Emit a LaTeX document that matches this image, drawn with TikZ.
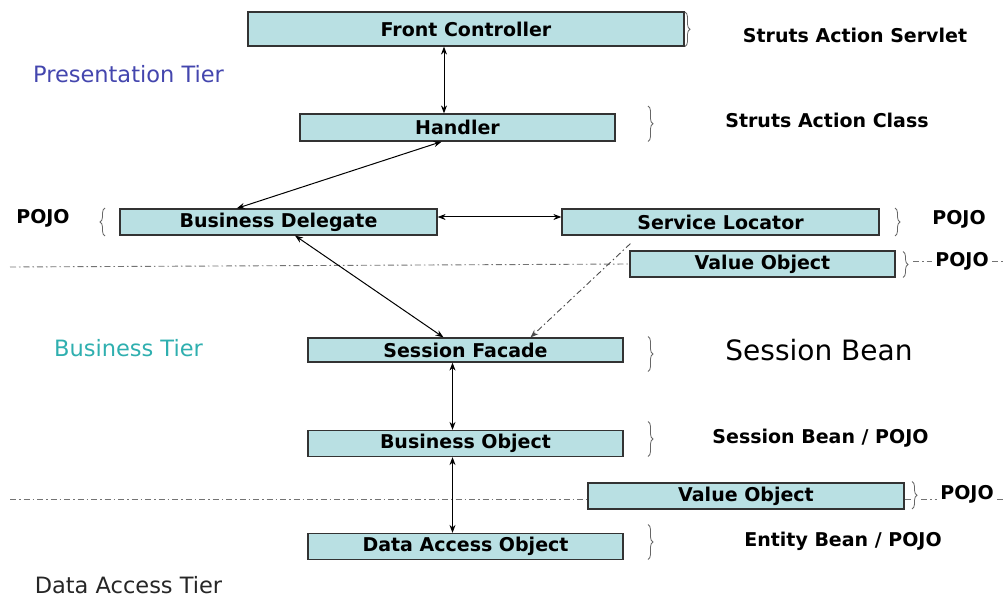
\documentclass[tikz,border=0pt]{standalone}
\usepackage{fontspec}
\setmainfont{DejaVu Sans}
\usetikzlibrary{arrows.meta,decorations.pathreplacing}

\definecolor{boxfill}{HTML}{B9E0E3}
\definecolor{presblue}{HTML}{4446AE}
\definecolor{busteal}{HTML}{2FAFAF}

\tikzset{
  tierbox/.style={draw=black!80, line width=1.2pt, fill=boxfill, inner sep=0pt,
    font=\bfseries\fontsize{19}{22}\selectfont},
  link/.style={{Stealth[length=8pt,width=6pt]}-{Stealth[length=8pt,width=6pt]}, line width=1pt},
  tierline/.style={black!55, line width=0.9pt, dash pattern=on 6pt off 3pt on 1.5pt off 3pt},
  curly/.style={decorate, decoration={brace, amplitude=5pt}, black!60, line width=0.8pt},
  role/.style={font=\bfseries\fontsize{19}{22}\selectfont, anchor=base},
  tier/.style={font=\fontsize{22.5}{26}\selectfont, anchor=base, inner sep=1pt},
}

\begin{document}
\begin{tikzpicture}[x=1pt,y=-1pt]
  \useasboundingbox (0,0) rectangle (1005,599);

  % boxes
  \node[tierbox, minimum width=436pt, minimum height=34pt] (fc) at (466,29) {Front Controller};
  \node[tierbox, minimum width=315pt, minimum height=27pt] (h) at (457.5,127.5) {Handler};
  \node[tierbox, minimum width=317pt, minimum height=26pt] (bd) at (278.5,222) {Business Delegate};
  \node[tierbox, minimum width=317pt, minimum height=26pt] (sl) at (720.5,222) {Service Locator};
  \node[tierbox, minimum width=265pt, minimum height=26pt] (vo1) at (762.5,264) {Value Object};
  \node[tierbox, minimum width=315pt, minimum height=24pt] (sf) at (465.5,350) {Session Facade};
  \node[tierbox, minimum width=315pt, minimum height=26pt] (bo) at (465.5,443.5) {Business Object};
  \node[tierbox, minimum width=316pt, minimum height=26pt] (vo2) at (746,496) {Value Object};
  \node[tierbox, minimum width=315pt, minimum height=26pt] (dao) at (465.5,546.5) {Data Access Object};

  % tier names
  \node[tier, presblue] (pt) at (128.5,82.7) {Presentation Tier};
  \node[tier, busteal] (bt) at (128.5,356.7) {Business Tier};
  \node[tier, black!85] (dt) at (128.5,593.5) {Data Access Tier};

  % roles
  \node[role] (r1) at (855,42.7) {Struts Action Servlet};
  \node[role] (r2) at (827,127.7) {Struts Action Class};
  \node[role] (r3) at (43,223.5) {POJO};
  \node[role] (r4) at (959,224.5) {POJO};
  \node[role] (r5) at (962,266.5) {POJO};
  \node[font=\fontsize{28}{32}\selectfont, anchor=base] (r6) at (819,360.7) {Session Bean};
  \node[role] (r7) at (820.5,443.3) {Session Bean / POJO};
  \node[role] (r8) at (967,499) {POJO};
  \node[role] (r9) at (843,546.7) {Entity Bean / POJO};

  % braces
  \draw[curly] (685,12) -- (685,46.5);
  \draw[curly] (648,106) -- (648,141.5);
  \draw[curly] (105,236) -- (105,208);
  \draw[curly] (895,208) -- (895,236);
  \draw[curly] (903,251.5) -- (903,277.5);
  \draw[curly] (648,336.5) -- (648,371.5);
  \draw[curly] (648,421.5) -- (648,456.5);
  \draw[curly] (912,481.5) -- (912,509);
  \draw[curly] (648,524.5) -- (648,559.5);

  % tier lines
  \draw[tierline] (10,267) -- (vo1.west);
  \draw[tierline] (913,261) -- (r5.west |- 0,261);
  \draw[tierline] (r5.east |- 0,261) -- (1003,261);
  \draw[tierline] (10,499) -- (vo2.west |- 0,499);
  \draw[tierline] (vo2.east |- 0,499) -- (912,499);
  \draw[tierline] (921,499) -- (r8.west |- 0,499);
  \draw[tierline] (r8.east |- 0,499) -- (1005,499);

  % links
  \draw[link] ([xshift=-22pt]fc.south) -- ([xshift=-13.5pt]h.north);
  \draw[link] ([xshift=-15.8pt]h.south) -- ([xshift=-41.8pt]bd.north);
  \draw[link] ([yshift=5pt]bd.east) -- ([yshift=5pt]sl.west);
  \draw[link] ([xshift=16.5pt]bd.south) -- ([xshift=-22pt]sf.north);
  \draw[link] ([xshift=-13pt]sf.south) -- ([xshift=-13pt]bo.north);
  \draw[link] ([xshift=-13pt]bo.south) -- ([xshift=-13pt]dao.north);
  \draw[tierline, -{Stealth[length=8pt,width=6pt]}, black!70] ([xshift=69pt,yshift=-8pt]sl.south west) -- ([xshift=65pt]sf.north);
\end{tikzpicture}
\end{document}
